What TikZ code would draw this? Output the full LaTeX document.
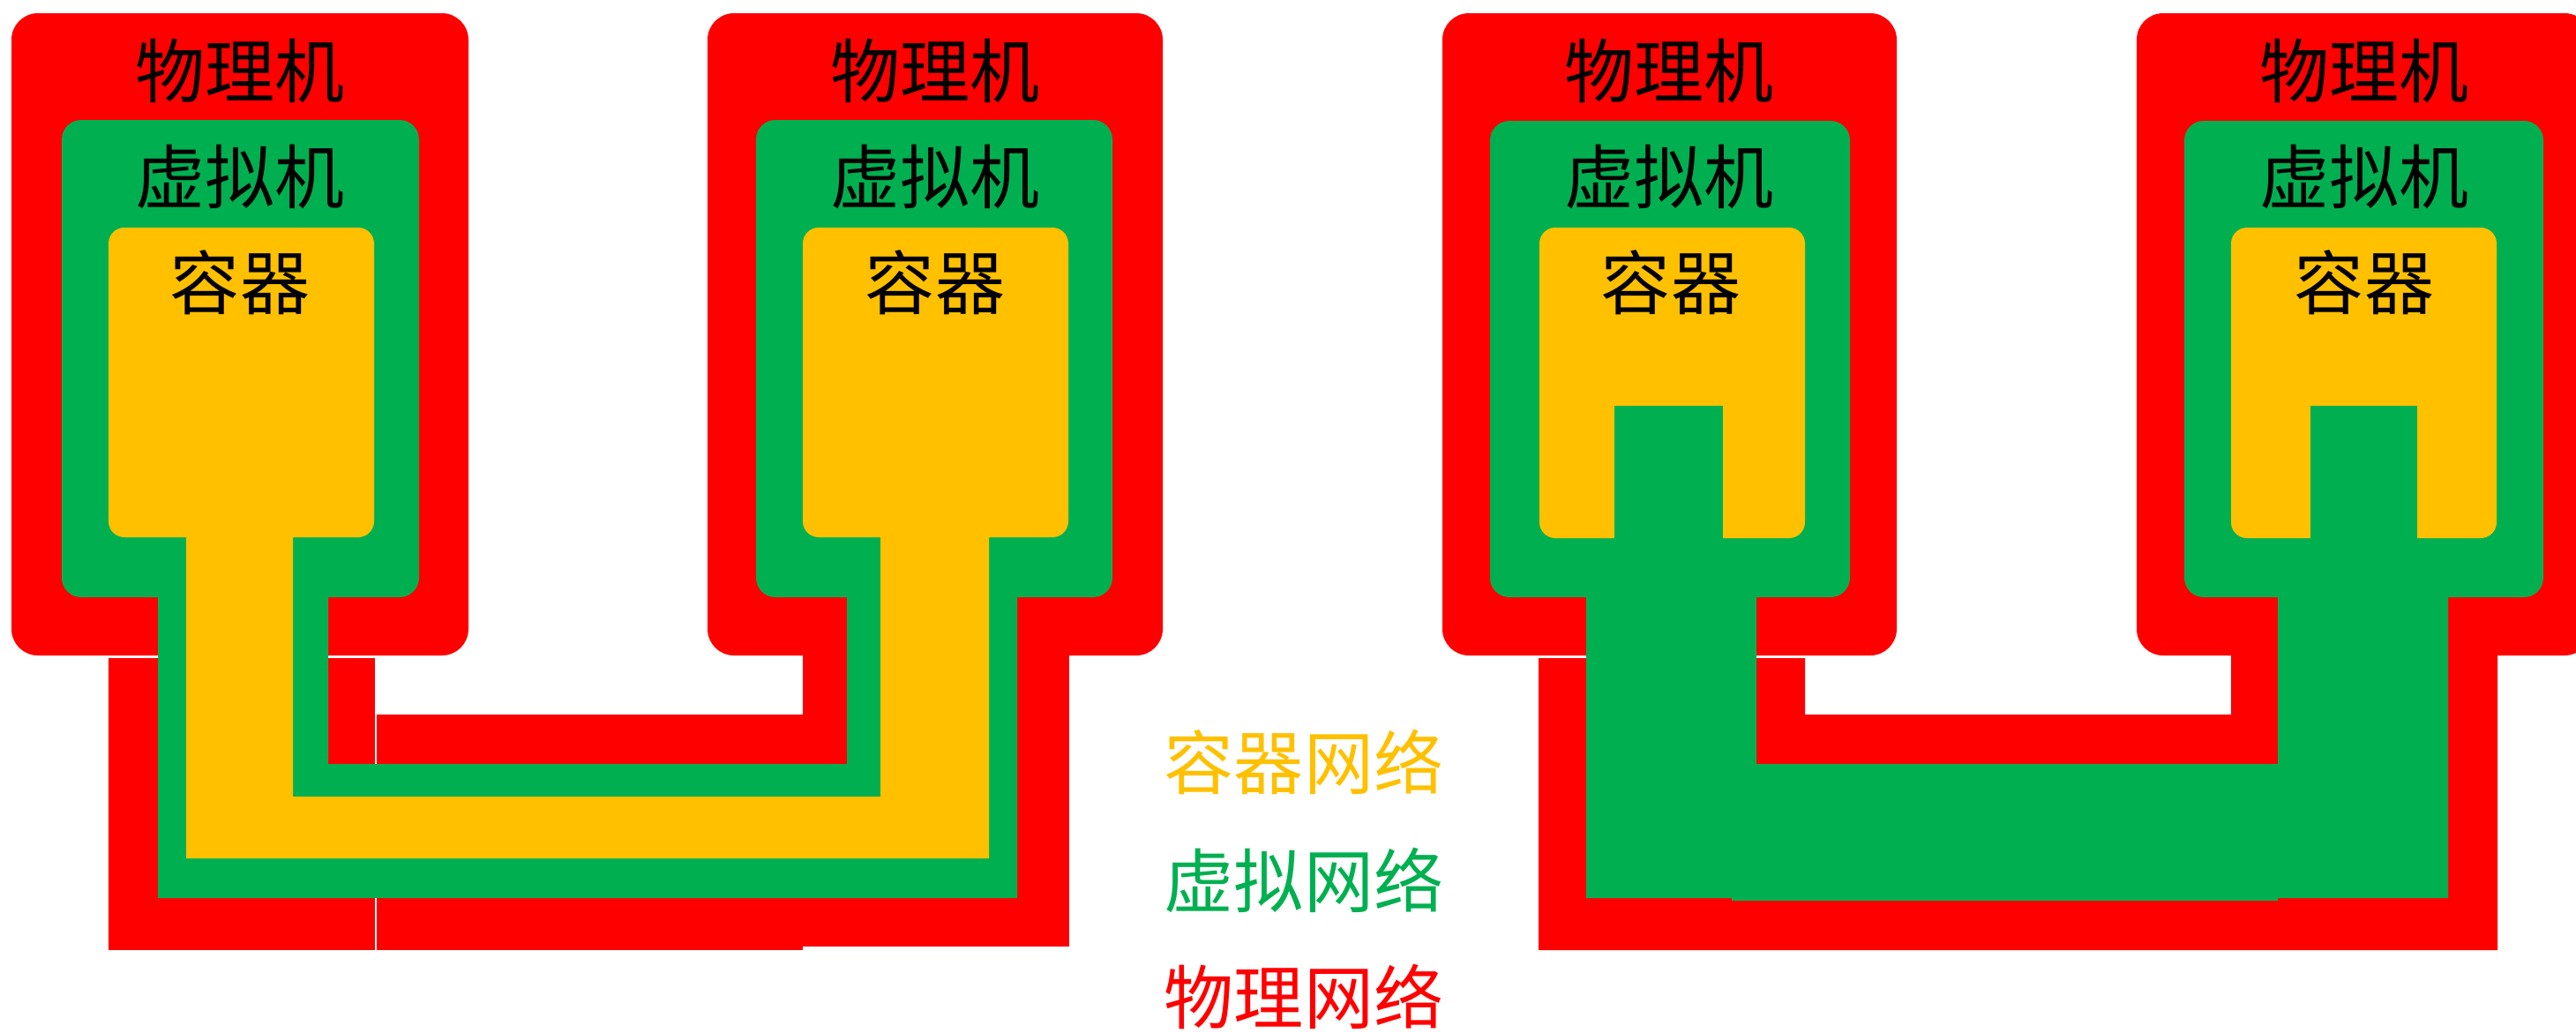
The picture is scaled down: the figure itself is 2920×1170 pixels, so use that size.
\documentclass[tikz,border=0pt]{standalone}
\usepackage{fontspec}
\setmainfont{Noto Sans CJK SC}
\usepackage{tikz}
\definecolor{netred}{HTML}{FF0000}
\definecolor{netgreen}{HTML}{00B050}
\definecolor{netyellow}{HTML}{FFC000}
\tikzset{
  physbox/.style={fill=netred, rounded corners=3mm},
  vmbox/.style={fill=netgreen, rounded corners=2.2mm},
  ctbox/.style={fill=netyellow, rounded corners=1.8mm},
  boxtext/.style={inner sep=0pt, text=black, font=\fontsize{22.5}{27}\selectfont},
  keytext/.style={inner sep=0pt, font=\fontsize{22.5}{27}\selectfont}
}

\begin{document}
\begin{tikzpicture}[x=0.1mm, y=-0.1mm]
			%%%%% START %%%%%
			\clip (0, 0) rectangle (2920, 1170);
			
			% container network: two hosts
			\fill[physbox] (13, 15) rectangle (531, 743);
			\fill[physbox] (802, 15) rectangle (1318, 743);
			
			\fill[netred] (123, 746) rectangle (425, 1077);
			\fill[netred] (427, 810) rectangle (910, 1077);
			\fill[netred] (910, 740) rectangle (1212, 1073);
			
			\fill[vmbox] (70, 136) rectangle (475, 677);
			\fill[vmbox] (857, 136) rectangle (1261, 677);
			\fill[netgreen] (179, 660) -- (179, 1018) -- (1153, 1018) -- (1153, 660) -- (960, 660) -- (960, 866) -- (372, 866) -- (372, 660) -- cycle;
			
			\fill[ctbox] (123, 258) rectangle (424, 609);
			\fill[ctbox] (910, 258) rectangle (1211, 609);
			\fill[netyellow] (211, 600) -- (211, 973) -- (1121, 973) -- (1121, 600) -- (998, 600) -- (998, 903) -- (332, 903) -- (332, 600) -- cycle;
			
			\node[boxtext] (pmA) at (272, 80) {物理机};
			\node[boxtext] (vmA) at (272, 200) {虚拟机};
			\node[boxtext] (ctA) at (272, 320) {容器};
			\node[boxtext] (pmB) at (1060, 80) {物理机};
			\node[boxtext] (vmB) at (1060, 200) {虚拟机};
			\node[boxtext] (ctB) at (1060, 320) {容器};
			
			% virtual network: two hosts
			\fill[physbox] (1635, 15) rectangle (2150, 743);
			\fill[physbox] (2422, 15) rectangle (2937, 743);
			
			\fill[netred] (1744, 746) -- (1744, 1077) -- (2831, 1077) -- (2831, 740) -- (2529, 740) -- (2529, 810) -- (2046, 810) -- (2046, 746) -- cycle;
			
			\fill[vmbox] (1689, 137) rectangle (2097, 677);
			\fill[vmbox] (2476, 137) rectangle (2883, 677);
			
			\fill[ctbox] (1745, 258) rectangle (2046, 610);
			\fill[ctbox] (2529, 258) rectangle (2830, 610);
			\fill[netgreen] (1830, 460) rectangle (1953, 620);
			\fill[netgreen] (2619, 460) rectangle (2740, 620);
			
			\fill[netgreen] (1798, 660) -- (1798, 1018) -- (1963, 1018) -- (1963, 1021) -- (2582, 1021) -- (2582, 1018) -- (2775, 1018) -- (2775, 660) -- (2582, 660) -- (2582, 866) -- (1991, 866) -- (1991, 660) -- cycle;
			
			\node[boxtext] (pmC) at (1892, 80) {物理机};
			\node[boxtext] (vmC) at (1892, 200) {虚拟机};
			\node[boxtext] (ctC) at (1894, 320) {容器};
			\node[boxtext] (pmD) at (2680, 80) {物理机};
			\node[boxtext] (vmD) at (2680, 200) {虚拟机};
			\node[boxtext] (ctD) at (2680, 320) {容器};
			
			% key
			\node[keytext, text=netyellow] (keyC) at (1478, 864) {容器网络};
			\node[keytext, text=netgreen] (keyV) at (1478, 998) {虚拟网络};
			\node[keytext, text=netred] (keyP) at (1478, 1130) {物理网络};
			
			%%%%% END %%%%%
\end{tikzpicture}
\end{document}
